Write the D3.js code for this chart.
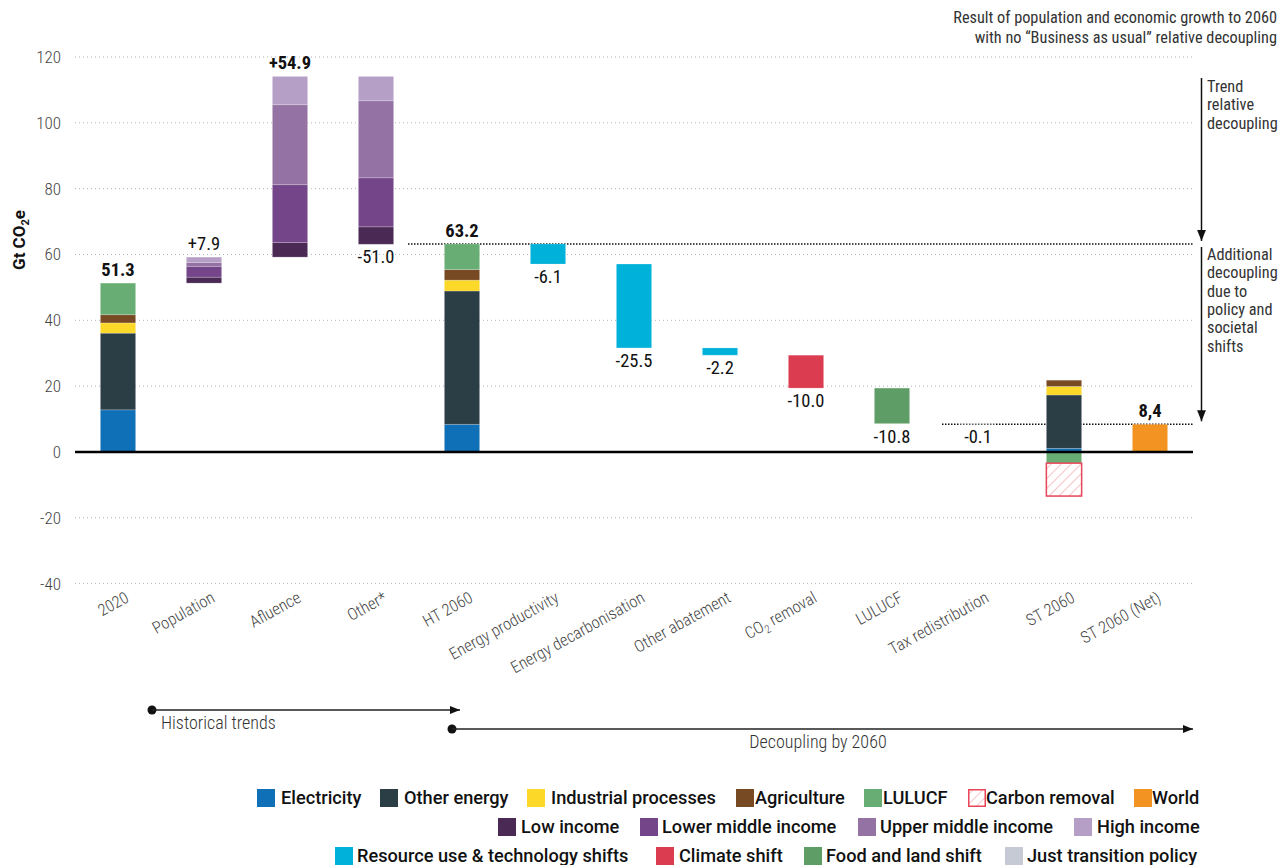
<!DOCTYPE html>
<html><head><meta charset="utf-8">
<script src="https://cdn.jsdelivr.net/npm/d3@7"></script>
<style>
body{margin:0;background:#fff;}
svg{display:block;}
.cond{font-family:"Roboto Condensed","Liberation Sans Narrow","Roboto",sans-serif;}
.leg{font-family:"Roboto",sans-serif;font-weight:500;font-size:18.2px;fill:#111;}
</style>
</head><body>
<script>
// ---------------- DATA ----------------
const categories = ["2020","Population","Afluence","Other*","HT 2060","Energy productivity","Energy decarbonisation","Other abatement","CO2 removal","LULUCF","Tax redistribution","ST 2060","ST 2060 (Net)"];
const sectorKeys = ["Electricity","Other energy","Industrial processes","Agriculture","LULUCF"];
const sector2020 = [12.8, 23.3, 3.1, 2.5, 9.6];
const sectorHT2060 = [8.4, 40.5, 3.3, 3.2, 7.8];
const sectorST2060 = [1.1, 16.2, 2.6, 1.9, -3.4];
const carbonRemovalST2060 = -10.0;
const incomeKeys = ["Low income","Lower middle income","Upper middle income","High income"];
const incomePopulation = [1.8, 3.3, 1.2, 1.6];
const incomeAffluence = [4.4, 17.6, 24.3, 8.6];
const incomeOther = [-5.3, -14.9, -23.4, -7.4];
const stepCategories = ["Energy productivity","Energy decarbonisation","Other abatement","CO2 removal","LULUCF","Tax redistribution"];
const stepValues = [-6.1, -25.5, -2.2, -10.0, -10.8, -0.1];
const stepTypes = ["Resource use & technology shifts","Resource use & technology shifts","Resource use & technology shifts","Climate shift","Food and land shift","Just transition policy"];
const worldNet = 8.4;
const valueLabels = ["51.3","+7.9","+54.9","-51.0","63.2","-6.1","-25.5","-2.2","-10.0","-10.8","-0.1","","8,4"];
const yTicks = [-40,-20,0,20,40,60,80,100,120];

const colors = {
  "Electricity":"#0f70b7","Other energy":"#2b3d45","Industrial processes":"#fcd829","Agriculture":"#784a23","LULUCF":"#68ad73",
  "Carbon removal":"#e8455a","World":"#f39322",
  "Low income":"#4a2a55","Lower middle income":"#744689","Upper middle income":"#9572a4","High income":"#b69fc7",
  "Resource use & technology shifts":"#00b1da","Climate shift":"#dc3c50","Food and land shift":"#5f9d66","Just transition policy":"#c5cad5"
};

const legendRows = [
  [["Electricity",257,281],["Other energy",380,404],["Industrial processes",527,551],["Agriculture",736,755],["LULUCF",864,883],["Carbon removal",968,986],["World",1134,1152]],
  [["Low income",498,521],["Lower middle income",640,662],["Upper middle income",858,880],["High income",1074,1097]],
  [["Resource use & technology shifts",335,357],["Climate shift",656,679],["Food and land shift",804,826],["Just transition policy",1005,1027]]
];

// ---------------- CHART ----------------
const W=1280,H=865;
const svg=d3.select("body").append("svg").attr("width",W).attr("height",H);
const defs=svg.append("defs");
const pat=defs.append("pattern").attr("id","hatch").attr("patternUnits","userSpaceOnUse").attr("width",7).attr("height",7).attr("patternTransform","rotate(45)");
pat.append("rect").attr("width",7).attr("height",7).attr("fill","#fff");
pat.append("line").attr("x1",0).attr("y1",0).attr("x2",0).attr("y2",7).attr("stroke","#f08a98").attr("stroke-width",1);

const x=d3.scaleBand().domain(categories).range([75,1193]).paddingInner(0.59).paddingOuter(0.295);
const y=d3.scaleLinear().domain([-40,120]).range([583.6,57]);
const bw=x.bandwidth();

// grid
svg.append("g").selectAll("line").data(yTicks.filter(d=>d!==0)).join("line")
  .attr("x1",75).attr("x2",1193).attr("y1",d=>y(d)).attr("y2",d=>y(d))
  .attr("stroke","#b5b5b5").attr("stroke-width",1).attr("stroke-dasharray","1,3");
// y axis tick labels
const yAxis=d3.axisLeft(y).tickValues(yTicks).tickSize(0).tickPadding(0).tickFormat(d=>String(d));
const ya=svg.append("g").attr("transform","translate(61,0)").call(yAxis);
ya.select(".domain").remove();
ya.selectAll("text").attr("class","cond").attr("font-size",17).attr("font-weight",300).attr("fill","#444");

// y title
const yt=svg.append("text").attr("transform","translate(25,240) rotate(-90)")
  .attr("text-anchor","middle").attr("font-family","Roboto, sans-serif").attr("font-size",17).attr("font-weight",700).attr("fill","#111");
yt.append("tspan").text("Gt CO");
yt.append("tspan").text("2").attr("font-size",11).attr("dy",4);
yt.append("tspan").text("e").attr("dy",-4);

// build segments
const segs=[];
function stack(cat,keys,vals,base){
  let cur=base;
  keys.forEach((k,i)=>{const v=Math.abs(vals[i]);segs.push({cat,key:k,y0:cur,y1:cur+v});cur+=v;});
}
stack("2020",sectorKeys,sector2020,0);
const total2020=d3.sum(sector2020);
stack("Population",incomeKeys,incomePopulation,total2020);
const afterPop=total2020+d3.sum(incomePopulation);
stack("Afluence",incomeKeys,incomeAffluence,afterPop);
const afterAff=afterPop+d3.sum(incomeAffluence);
const afterOther=afterAff+d3.sum(incomeOther);
stack("Other*",incomeKeys,incomeOther,afterOther);
stack("HT 2060",sectorKeys,sectorHT2060,0);
let run=d3.sum(sectorHT2060);
const ht=run;
stepCategories.forEach((c,i)=>{const n=run+stepValues[i];segs.push({cat:c,key:stepTypes[i],y0:n,y1:run});run=n;});
// ST 2060
let pos=0;
sectorST2060.forEach((v,i)=>{ if(v>=0){segs.push({cat:"ST 2060",key:sectorKeys[i],y0:pos,y1:pos+v});pos+=v;} });
let neg=0;
sectorST2060.forEach((v,i)=>{ if(v<0){segs.push({cat:"ST 2060",key:sectorKeys[i],y0:neg+v,y1:neg});neg+=v;} });
segs.push({cat:"ST 2060",key:"Carbon removal",y0:neg+carbonRemovalST2060,y1:neg});
segs.push({cat:"ST 2060 (Net)",key:"World",y0:0,y1:worldNet});

// dotted reference lines
svg.append("line").attr("x1",408).attr("x2",1193).attr("y1",y(ht)).attr("y2",y(ht))
  .attr("stroke","#111").attr("stroke-width",1.6).attr("stroke-dasharray","1.5,1.5");
svg.append("line").attr("x1",942).attr("x2",1193).attr("y1",y(worldNet)).attr("y2",y(worldNet))
  .attr("stroke","#111").attr("stroke-width",1.6).attr("stroke-dasharray","1.5,1.5");

// bars
svg.append("g").selectAll("rect").data(segs).join("rect")
  .attr("x",d=>x(d.cat)).attr("width",bw)
  .attr("y",d=>y(d.y1)).attr("height",d=>Math.max(0.6,y(d.y0)-y(d.y1)))
  .attr("fill",d=>d.key==="Carbon removal"?"url(#hatch)":colors[d.key])
  .attr("stroke",d=>d.key==="Carbon removal"?colors["Carbon removal"]:"rgba(255,255,255,0.25)")
  .attr("stroke-width",d=>d.key==="Carbon removal"?1.5:0.8);

// zero line
svg.append("line").attr("x1",75).attr("x2",1193).attr("y1",y(0)).attr("y2",y(0)).attr("stroke","#000").attr("stroke-width",2.5);

// value labels
const tops={},bots={};
segs.forEach(s=>{tops[s.cat]=Math.max(tops[s.cat]??-1e9,s.y1);bots[s.cat]=Math.min(bots[s.cat]??1e9,s.y0);});
categories.forEach((c,i)=>{
  const lab=valueLabels[i]; if(!lab) return;
  const above=!lab.startsWith("-");
  const bold=["51.3","+54.9","63.2","8,4"].includes(lab);
  const yy= above? y(tops[c])-7 : y(bots[c])+19;
  svg.append("text").attr("class","cond").attr("x",x(c)+bw/2).attr("y",yy).attr("text-anchor","middle")
    .attr("font-size",18.5).attr("font-weight",bold?700:400).attr("fill","#111").text(lab);
});

// x labels
const xl=svg.append("g");
categories.forEach(c=>{
  const t=xl.append("text").attr("class","cond").attr("text-anchor","end").attr("font-size",16.5).attr("font-weight",300).attr("fill","#444")
    .attr("transform",`translate(${x(c)+bw/2+12},${601}) rotate(-29)`);
  if(c==="CO2 removal"){t.append("tspan").text("CO");t.append("tspan").text("2").attr("font-size",11).attr("dy",4);t.append("tspan").text(" removal").attr("dy",-4);}
  else t.text(c);
});

// arrow marker
defs.append("marker").attr("id","ah").attr("viewBox","0 0 10 10").attr("refX",10).attr("refY",5)
  .attr("markerWidth",12).attr("markerHeight",10).attr("markerUnits","userSpaceOnUse").attr("orient","auto")
  .append("path").attr("d","M0,1 L10,5 L0,9 Z").attr("fill","#111");
defs.append("marker").attr("id","ahv").attr("viewBox","0 0 10 10").attr("refX",10).attr("refY",5)
  .attr("markerWidth",18).attr("markerHeight",11).attr("markerUnits","userSpaceOnUse").attr("orient","auto")
  .append("path").attr("d","M0,1 L10,5 L0,9 Z").attr("fill","#111");

// right vertical arrows
svg.append("line").attr("x1",1201.5).attr("x2",1201.5).attr("y1",78).attr("y2",y(ht)-3).attr("stroke","#111").attr("stroke-width",1.5).attr("marker-end","url(#ahv)");
svg.append("line").attr("x1",1201.5).attr("x2",1201.5).attr("y1",y(ht)+3).attr("y2",y(worldNet)-3).attr("stroke","#111").attr("stroke-width",1.5).attr("marker-end","url(#ahv)");
const ann=(lines,x0,y0)=>{const t=svg.append("text").attr("class","cond").attr("font-size",16.3).attr("fill","#333");
  lines.forEach((l,i)=>t.append("tspan").attr("x",x0).attr("y",y0+i*18.3).text(l));};
ann(["Trend","relative","decoupling"],1207,92);
ann(["Additional","decoupling","due to","policy and","societal","shifts"],1207,260);
const topT=svg.append("text").attr("class","cond").attr("font-size",16.3).attr("fill","#333").attr("text-anchor","end");
topT.append("tspan").attr("x",1277).attr("y",23).text("Result of population and economic growth to 2060");
topT.append("tspan").attr("x",1277).attr("y",43).text("with no \u201cBusiness as usual\u201d relative decoupling");

// bottom arrows
svg.append("circle").attr("cx",152).attr("cy",710).attr("r",4.5).attr("fill","#111");
svg.append("line").attr("x1",152).attr("x2",460).attr("y1",710).attr("y2",710).attr("stroke","#222").attr("stroke-width",1.5).attr("marker-end","url(#ah)");
svg.append("text").attr("class","cond").attr("x",161).attr("y",729).attr("font-size",18).attr("font-weight",300).attr("fill","#333").text("Historical trends");
svg.append("circle").attr("cx",452).attr("cy",729).attr("r",4.5).attr("fill","#111");
svg.append("line").attr("x1",452).attr("x2",1193).attr("y1",729).attr("y2",729).attr("stroke","#222").attr("stroke-width",1.5).attr("marker-end","url(#ah)");
svg.append("text").attr("class","cond").attr("x",818).attr("y",748).attr("text-anchor","middle").attr("font-size",18).attr("font-weight",300).attr("fill","#333").text("Decoupling by 2060");

// legend
const rowY=[798,827,856];
legendRows.forEach((row,ri)=>{
  row.forEach(([name,sx,tx])=>{
    const hatch=name==="Carbon removal";
    svg.append("rect").attr("x",sx+(hatch?0.75:0)).attr("y",rowY[ri]-9+(hatch?0.75:0)).attr("width",hatch?16.5:18).attr("height",hatch?16.5:18)
      .attr("fill",hatch?"url(#hatch)":colors[name]).attr("stroke",hatch?colors["Carbon removal"]:"none").attr("stroke-width",hatch?1.5:0);
    svg.append("text").attr("class","leg").attr("x",tx).attr("y",rowY[ri]+6).text(name);
  });
});
</script>
</body></html>
